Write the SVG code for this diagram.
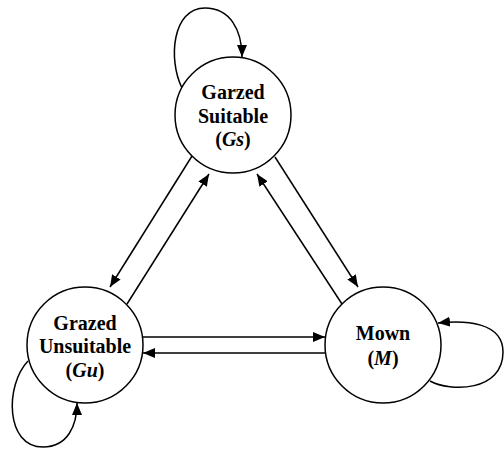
<svg xmlns="http://www.w3.org/2000/svg" width="504" height="450" viewBox="0 0 504 450">
<style>
.node circle{fill:#fff;stroke:#000;stroke-width:1.5}
.lbl{font-family:"Liberation Serif","Times New Roman",serif;font-weight:bold;font-size:20px;fill:#000;text-anchor:middle}
.it{font-style:italic}
.edge{fill:none;stroke:#000;stroke-width:1.5;marker-end:url(#ah)}
</style>
<defs>
<marker id="ah" viewBox="0 0 12 10" refX="12" refY="5" markerWidth="12" markerHeight="10" markerUnits="userSpaceOnUse" orient="auto">
<path d="M0,0 L12,5 L0,10 z" fill="#000"/>
</marker>
</defs>
<rect width="504" height="450" fill="#fff"/>
<g id="connectors">
<path class="edge" d="M182,88 C168,60 172,8 205,8 C230,8 242,30 242,57"/>
<path class="edge" d="M28,361 C5,385 5,447 43,447 C68,447 77,425 77,403"/>
<path class="edge" d="M430,381 C450,392 503,392 503,352 C503,322 465,320 438,323"/>
<line class="edge" x1="192" y1="156" x2="110" y2="287"/>
<line class="edge" x1="127" y1="304" x2="209" y2="174"/>
<line class="edge" x1="275" y1="157" x2="358" y2="287"/>
<line class="edge" x1="342" y1="304" x2="257" y2="174"/>
<line class="edge" x1="143" y1="337" x2="325" y2="337"/>
<line class="edge" x1="325" y1="353" x2="143" y2="353"/>
</g>
<g id="node-gs" class="node">
<circle cx="233" cy="115" r="58"/>
<text class="lbl" x="233" y="99">Garzed</text>
<text class="lbl" x="233" y="123">Suitable</text>
<text class="lbl" x="233" y="146">(<tspan class="it">Gs</tspan>)</text>
</g>
<g id="node-gu" class="node">
<circle cx="85" cy="345" r="58"/>
<text class="lbl" x="85" y="330">Grazed</text>
<text class="lbl" x="85" y="353">Unsuitable</text>
<text class="lbl" x="85" y="377">(<tspan class="it">Gu</tspan>)</text>
</g>
<g id="node-m" class="node">
<circle cx="383" cy="345" r="58"/>
<text class="lbl" x="383" y="340">Mown</text>
<text class="lbl" x="383" y="365">(<tspan class="it">M</tspan>)</text>
</g>
</svg>
